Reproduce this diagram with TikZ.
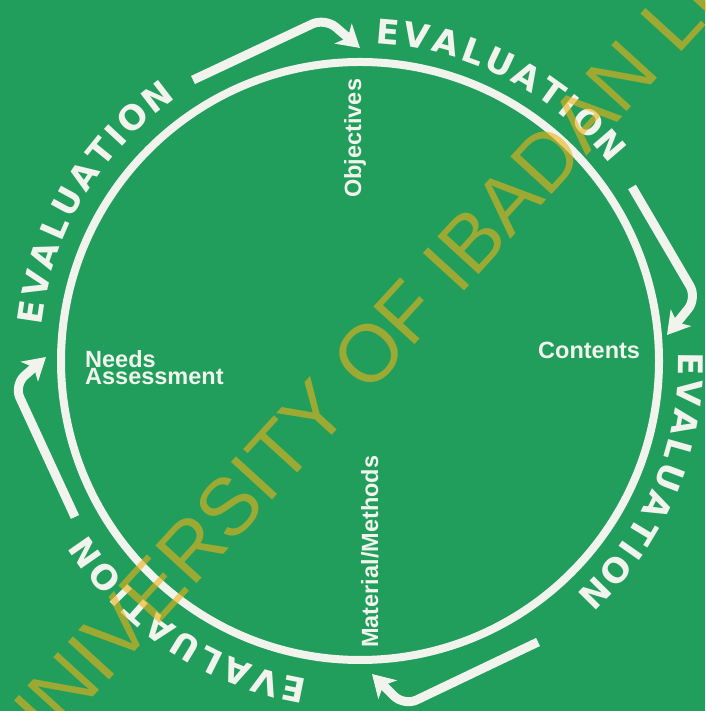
\documentclass[tikz,border=0pt]{standalone}
\usepackage{fontspec}
\setmainfont{Liberation Sans}
\newfontfamily\evalfont{DejaVu Sans}
\usetikzlibrary{arrows.meta,calc}

\definecolor{boardgreen}{RGB}{33,157,92}
\definecolor{chalk}{RGB}{240,244,236}
\definecolor{stamp}{RGB}{238,178,24}

% one "EVALUATION" set letter by letter around the ring
% #1 = angle of the first letter, #2 = radius of the letter centres, #3 = name prefix
\newcommand\evalword[3]{%
  \foreach \ch/\pos [count=\k] in {E/0,V/29,A/58.8,L/87.8,U/116.8,A/147.5,T/176.5,I/198.8,O/223.7,N/255.2}{%
    \pgfmathsetmacro\ang{#1-\pos*57.2958/#2}
    \node[evalletter, rotate={\ang-90}] (#3\k) at ($(ctr)+(\ang:#2)$) {\ch};
  }%
}

\begin{document}
\begin{tikzpicture}[x=1pt,y=1pt,
  ring/.style={draw=chalk, line width=8pt},
  cyclearrow/.style={draw=chalk, line width=9pt, rounded corners=14pt,
    -{Stealth[length=22pt,width=26pt,inset=6pt]}},
  evalletter/.style={text=chalk, font=\evalfont\bfseries\fontsize{34}{34}\selectfont, inner sep=0pt},
  stagelabel/.style={text=chalk, font=\fontsize{23.5}{17}\selectfont\bfseries, inner sep=0pt},
  watermark/.style={text=stamp, text opacity=0.6, font=\fontsize{81}{81}\selectfont, inner sep=0pt}]

\useasboundingbox (0,0) rectangle (705,711);
\clip (0,0) rectangle (705,711);
\fill[boardgreen] (0,0) rectangle (705,711);

% the planning cycle
\coordinate (ctr) at (360,350);
\draw[ring] (ctr) circle[radius=299];

% stages inside the cycle
\node[stagelabel, anchor=north west, align=left] (needs) at (85,361) {Needs\\Assessment};
\node[stagelabel, anchor=base west] (contents) at (538,352) {Contents};
\node[stagelabel, anchor=base west, rotate=90] (objectives) at (361,513) {Objectives};
\node[stagelabel, anchor=base west, rotate=90] (methods) at (378,63) {Material/Methods};

% evaluation around the outside
\evalword{171.5}{333}{tl}
\evalword{85.1}{330}{tr}
\evalword{-0.5}{331}{rt}
\evalword{258.5}{335}{bt}

% arrows leading from one evaluation to the next
\coordinate (a1s) at (193,631); \coordinate (a1m) at (325,693); \coordinate (a1e) at (360,663);
\coordinate (a2s) at (632,524); \coordinate (a2m) at (697,413); \coordinate (a2e) at (667,376);
\coordinate (a3s) at (538,69);  \coordinate (a3m) at (404,5);   \coordinate (a3e) at (372,37);
\coordinate (a4s) at (75,194);  \coordinate (a4m) at (14,326);  \coordinate (a4e) at (46,354);
\draw[cyclearrow] (a1s) -- (a1m) -- (a1e);
\draw[cyclearrow] (a2s) -- (a2m) -- (a2e);
\draw[cyclearrow] (a3s) -- (a3m) -- (a3e);
\draw[cyclearrow] (a4s) -- (a4m) -- (a4e);

% library stamp across the page
\node[watermark, anchor=base west, rotate=47.6] (stampmark) at (25,-60.6) {UNIVERSITY OF IBADAN LIBRARY};
\end{tikzpicture}
\end{document}
